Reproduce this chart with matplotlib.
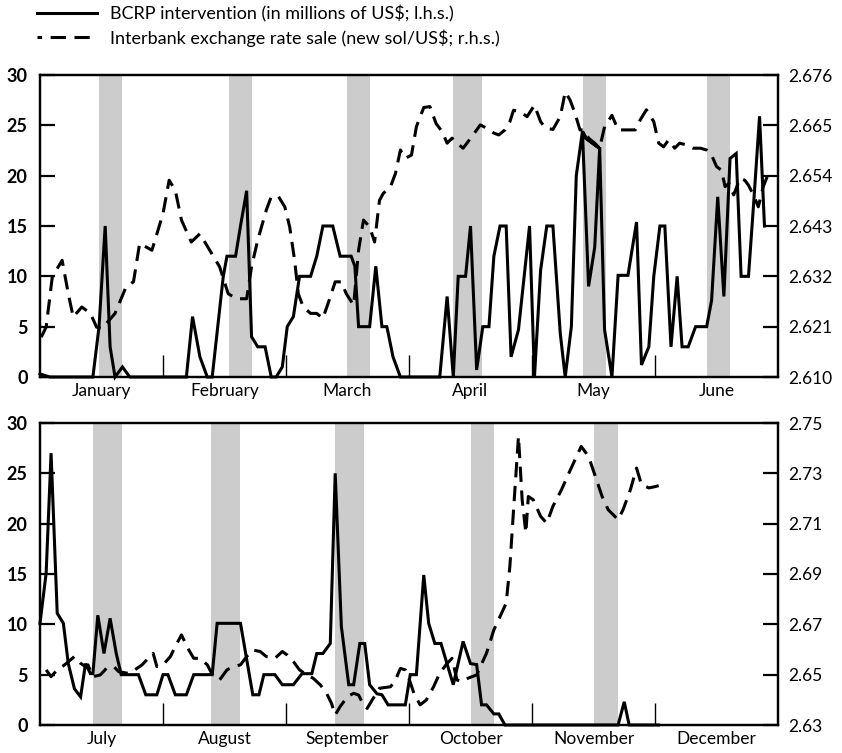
import matplotlib
matplotlib.use("Agg")
import matplotlib.pyplot as plt
from matplotlib.lines import Line2D
import numpy as np

plt.rcParams['font.family'] = ['Lato', 'DejaVu Sans']

# ---------------- data (x in month units: 0 = start of first month) ----------
months_h1 = ["January", "February", "March", "April", "May", "June"]
months_h2 = ["July", "August", "September", "October", "November", "December"]

bcrp_h1_x = [0.00, 0.08, 0.43, 0.48, 0.53, 0.57, 0.61, 0.67, 0.73, 1.19,
             1.24, 1.30, 1.36, 1.40, 1.49, 1.52, 1.59, 1.63, 1.68, 1.72,
             1.77, 1.83, 1.88, 1.92, 1.97, 2.01, 2.06, 2.11, 2.20, 2.25,
             2.30, 2.38, 2.44, 2.53, 2.56, 2.59, 2.68, 2.73, 2.78, 2.82,
             2.87, 2.93, 3.25, 3.31, 3.36, 3.40, 3.46, 3.50, 3.55, 3.60,
             3.65, 3.69, 3.74, 3.79, 3.83, 3.89, 3.98, 4.02, 4.07, 4.12,
             4.17, 4.23, 4.27, 4.32, 4.36, 4.41, 4.46, 4.51, 4.55, 4.44,
             4.41, 4.44, 4.55, 4.59, 4.65, 4.70, 4.78, 4.85, 4.89, 4.95,
             4.99, 5.04, 5.08, 5.13, 5.18, 5.22, 5.27, 5.33, 5.42, 5.46,
             5.51, 5.56, 5.61, 5.66, 5.70, 5.76, 5.80, 5.85, 5.89]
bcrp_h1 = [0.3, 0, 0, 5, 15, 3, 0, 1, 0, 0,
           6, 2, 0, 0, 10, 12, 12, 15, 18.5, 4,
           3, 3, 0, 0, 1, 5, 6, 10, 10, 12,
           15, 15, 12, 12, 11, 5, 5, 11, 5, 5,
           2, 0, 0, 8, 0, 10, 10, 15, 0.7, 5,
           5, 12, 15, 15, 2, 4.7, 15, 0, 10.6, 15,
           15, 4.3, 0, 5, 20, 24.4, 9, 12.9, 22.7, 23.7,
           24.4, 23.7, 22.7, 4.7, 0, 10.1, 10.1, 15.4, 1.2, 3,
           10, 15, 15, 3, 10, 3, 3, 5, 5, 7.6,
           17.9, 8, 21.7, 22.2, 10, 10, 16.9, 25.9, 15]

rate_h1_x = [0.01, 0.05, 0.10, 0.18, 0.23, 0.27, 0.34, 0.41, 0.46, 0.50,
             0.54, 0.61, 0.70, 0.76, 0.81, 0.91, 1.00, 1.05, 1.10, 1.15,
             1.23, 1.30, 1.38, 1.46, 1.53, 1.60, 1.68, 1.72, 1.77, 1.84,
             1.88, 1.94, 1.99, 2.03, 2.07, 2.10, 2.14, 2.20, 2.25, 2.30,
             2.36, 2.40, 2.45, 2.49, 2.55, 2.59, 2.63, 2.68, 2.72, 2.76,
             2.79, 2.85, 2.89, 2.93, 2.97, 3.02, 3.06, 3.12, 3.17, 3.22,
             3.27, 3.31, 3.35, 3.39, 3.44, 3.51, 3.58, 3.63, 3.69, 3.73,
             3.78, 3.82, 3.85, 3.90, 3.96, 4.02, 4.07, 4.11, 4.17, 4.23,
             4.27, 4.31, 4.35, 4.39, 4.42, 4.46, 4.51, 4.55, 4.59, 4.65,
             4.70, 4.77, 4.84, 4.88, 4.93, 4.99, 5.03, 5.07, 5.11, 5.16,
             5.20, 5.26, 5.31, 5.37, 5.42, 5.46, 5.50, 5.54, 5.57, 5.60,
             5.64, 5.69, 5.73, 5.76, 5.80, 5.84, 5.88, 5.93]
rate_h1 = [2.6187, 2.6209, 2.6319, 2.6355, 2.6282, 2.6231, 2.6253, 2.6239, 2.6209, 2.6206,
           2.6217, 2.6239, 2.6297, 2.6308, 2.6392, 2.6377, 2.6457, 2.6530, 2.6508, 2.6443,
           2.6395, 2.6413, 2.6377, 2.6341, 2.6282, 2.6271, 2.6271, 2.6341, 2.6399, 2.6465,
           2.6494, 2.6494, 2.6472, 2.6428, 2.6355, 2.6282, 2.6253, 2.6239, 2.6239, 2.6228,
           2.6275, 2.6308, 2.6308, 2.6282, 2.6257, 2.6377, 2.6443, 2.6428, 2.6395, 2.6486,
           2.6501, 2.6516, 2.6545, 2.6596, 2.6578, 2.6585, 2.6647, 2.6689, 2.6691, 2.6654,
           2.6636, 2.6611, 2.6622, 2.6611, 2.6600, 2.6625, 2.6651, 2.6644, 2.6633, 2.6629,
           2.6640, 2.6658, 2.6683, 2.6680, 2.6669, 2.6694, 2.6658, 2.6644, 2.6641, 2.6669,
           2.6723, 2.6705, 2.6676, 2.6640, 2.6640, 2.6622, 2.6611, 2.6600, 2.6647, 2.6672,
           2.6640, 2.6640, 2.6640, 2.6662, 2.6684, 2.6658, 2.6611, 2.6603, 2.6618, 2.6600,
           2.6611, 2.6607, 2.6600, 2.6600, 2.6596, 2.6585, 2.6560, 2.6552, 2.6516, 2.6523,
           2.6498, 2.6534, 2.6530, 2.6519, 2.6498, 2.6472, 2.6516, 2.6550]

bcrp_h2_x = [0.00, 0.05, 0.09, 0.14, 0.19, 0.23, 0.28, 0.33, 0.37, 0.41,
             0.43, 0.47, 0.52, 0.57, 0.62, 0.66, 0.80, 0.86, 0.95, 1.00,
             1.04, 1.10, 1.19, 1.25, 1.40, 1.44, 1.63, 1.73, 1.78, 1.82,
             1.91, 1.97, 2.06, 2.13, 2.21, 2.25, 2.30, 2.36, 2.40, 2.45,
             2.51, 2.55, 2.60, 2.64, 2.68, 2.74, 2.78, 2.83, 2.97, 3.01,
             3.06, 3.12, 3.16, 3.21, 3.26, 3.36, 3.44, 3.50, 3.55, 3.59,
             3.63, 3.69, 3.73, 3.78, 4.70, 4.75, 4.79, 5.03]
bcrp_h2 = [10.1, 15.1, 27, 11.1, 10.1, 6.1, 3.6, 2.8, 6.1, 5.1,
           5.1, 10.9, 7.1, 10.6, 7.1, 5, 5, 3, 3, 5,
           5, 3, 3, 5, 5, 10.1, 10.1, 3, 3, 5,
           5, 4, 4, 5.1, 5.1, 7.1, 7.1, 8.1, 25, 9.8,
           4, 4, 8.1, 8.1, 4, 3.1, 3, 2, 2, 5,
           5, 14.9, 10.1, 8.1, 8.1, 4, 8.3, 6.1, 6, 2,
           2, 1.1, 1.1, 0, 0, 2.3, 0, 0]

rate_h2_x = [0.05, 0.09, 0.14, 0.20, 0.28, 0.33, 0.37, 0.39, 0.43, 0.49,
             0.54, 0.60, 0.64, 0.72, 0.77, 0.83, 0.88, 0.92, 0.95, 1.00,
             1.06, 1.10, 1.15, 1.21, 1.25, 1.30, 1.36, 1.41, 1.46, 1.52,
             1.57, 1.63, 1.68, 1.73, 1.79, 1.84, 1.91, 1.97, 2.01, 2.06,
             2.11, 2.17, 2.22, 2.28, 2.33, 2.37, 2.40, 2.44, 2.50, 2.55,
             2.59, 2.63, 2.66, 2.70, 2.76, 2.85, 2.89, 2.93, 2.97, 2.99,
             3.04, 3.09, 3.14, 3.20, 3.25, 3.31, 3.35, 3.39, 3.43, 3.48,
             3.55, 3.58, 3.63, 3.69, 3.74, 3.79, 3.82, 3.85, 3.89, 3.92,
             3.95, 3.97, 4.01, 4.07, 4.12, 4.17, 4.24, 4.30, 4.35, 4.40,
             4.46, 4.51, 4.57, 4.62, 4.70, 4.74, 4.80, 4.85, 4.89, 4.95,
             4.99, 5.03]
rate_h2 = [2.6519, 2.6492, 2.6519, 2.6539, 2.6572, 2.6545, 2.6532, 2.6539, 2.6492, 2.6499,
           2.6525, 2.6532, 2.6512, 2.6505, 2.6519, 2.6539, 2.6565, 2.6585, 2.6532, 2.6539,
           2.6572, 2.6612, 2.6658, 2.6598, 2.6565, 2.6565, 2.6539, 2.6492, 2.6479, 2.6519,
           2.6532, 2.6539, 2.6572, 2.6598, 2.6592, 2.6572, 2.6565, 2.6592, 2.6578, 2.6552,
           2.6519, 2.6499, 2.6486, 2.6459, 2.6426, 2.6386, 2.6340, 2.6373, 2.6413, 2.6426,
           2.6419, 2.6380, 2.6366, 2.6399, 2.6446, 2.6452, 2.6479, 2.6525, 2.6519, 2.6499,
           2.6426, 2.6380, 2.6399, 2.6452, 2.6506, 2.6545, 2.6565, 2.6479, 2.6472, 2.6486,
           2.6499, 2.6532, 2.6585, 2.6678, 2.6731, 2.6784, 2.6930, 2.7155, 2.7447, 2.7195,
           2.7063, 2.7208, 2.7195, 2.7129, 2.7102, 2.7169, 2.7235, 2.7301, 2.7354, 2.7407,
           2.7367, 2.7295, 2.7208, 2.7155, 2.7116, 2.7155, 2.7235, 2.7321, 2.7255, 2.7242,
           2.7246, 2.7251]

# shaded weeks (start, end) in month units
bands_h1 = [(0.48, 0.667), (1.537, 1.724), (2.496, 2.683), (3.358, 3.593), (4.415, 4.602), (5.423, 5.61)]
bands_h2 = [(0.431, 0.667), (1.39, 1.626), (2.398, 2.634), (3.504, 3.691), (4.504, 4.699)]

left_ticks = [0, 5, 10, 15, 20, 25, 30]
right_ticks_h1 = [2.610, 2.621, 2.632, 2.643, 2.654, 2.665, 2.676]
right_ticks_h2 = [2.63, 2.65, 2.67, 2.69, 2.71, 2.73, 2.75]

legend_labels = ["BCRP intervention (in millions of US$; l.h.s.)",
                 "Interbank exchange rate sale (new sol/US$; r.h.s.)"]

# ---------------- figure ----------------
W, H = 842, 753
fig = plt.figure(figsize=(W / 100, H / 100), dpi=100)

LW = 2.2
DASH = (5.0, 2.8)
FS = 12.5


def panel(rect, bx, by, rx, ry, bands, month_names, rticks, rfmt):
    ax = fig.add_axes(rect)
    for a, b in bands:
        ax.axvspan(a, b, color="#cccccc", lw=0, zorder=0)
    ax.plot(bx, by, color="black", lw=LW, solid_joinstyle="miter", zorder=3, clip_on=False)
    ax.set_xlim(0, 6)
    ax.set_ylim(0, 30)
    ax.set_yticks(left_ticks)
    ax.set_yticklabels([str(t) for t in left_ticks], fontsize=FS + 0.5, fontweight="bold")
    ax.tick_params(axis="y", direction="in", length=11, width=1.6, pad=9)
    ax.set_xticks([1, 2, 3, 4, 5])
    ax.set_xticklabels([])
    ax.tick_params(axis="x", which="major", direction="in", length=16, width=1.0)
    ax.set_xticks(np.arange(6) + 0.5, minor=True)
    ax.set_xticklabels(month_names, minor=True, fontsize=FS)
    ax.tick_params(axis="x", which="minor", length=0, pad=4)
    for s in ax.spines.values():
        s.set_linewidth(1.6)

    ax2 = ax.twinx()
    ax2.plot(rx, ry, color="black", lw=LW, linestyle=(0, DASH), zorder=3)
    ax2.set_ylim(rticks[0], rticks[-1])
    ax2.set_yticks(rticks)
    ax2.set_yticklabels([rfmt.format(t) for t in rticks], fontsize=FS)
    ax2.tick_params(axis="y", direction="in", length=11, width=1.6, pad=7)
    for s in ax2.spines.values():
        s.set_linewidth(1.6)
    ax2.set_xlim(0, 6)
    return ax, ax2


left = 40 / W
width = 738 / W
ax_top, ax_top2 = panel([left, (H - 377) / H, width, 302 / H],
                        bcrp_h1_x, bcrp_h1, rate_h1_x, rate_h1,
                        bands_h1, months_h1, right_ticks_h1, "{:.3f}")
ax_bot, ax_bot2 = panel([left, (H - 725) / H, width, 302 / H],
                        bcrp_h2_x, bcrp_h2, rate_h2_x, rate_h2,
                        bands_h2, months_h2, right_ticks_h2, "{:.2f}")

handles = [Line2D([], [], color="black", lw=LW),
           Line2D([], [], color="black", lw=LW, linestyle=(3.5, DASH))]
fig.legend(handles, legend_labels, loc="upper left",
           bbox_to_anchor=(37 / W, 1 - 5 / H), frameon=False, fontsize=13,
           handlelength=3.3, handletextpad=0.72, labelspacing=0.4,
           borderpad=0, borderaxespad=0)

fig.savefig("out.png", dpi=100)
